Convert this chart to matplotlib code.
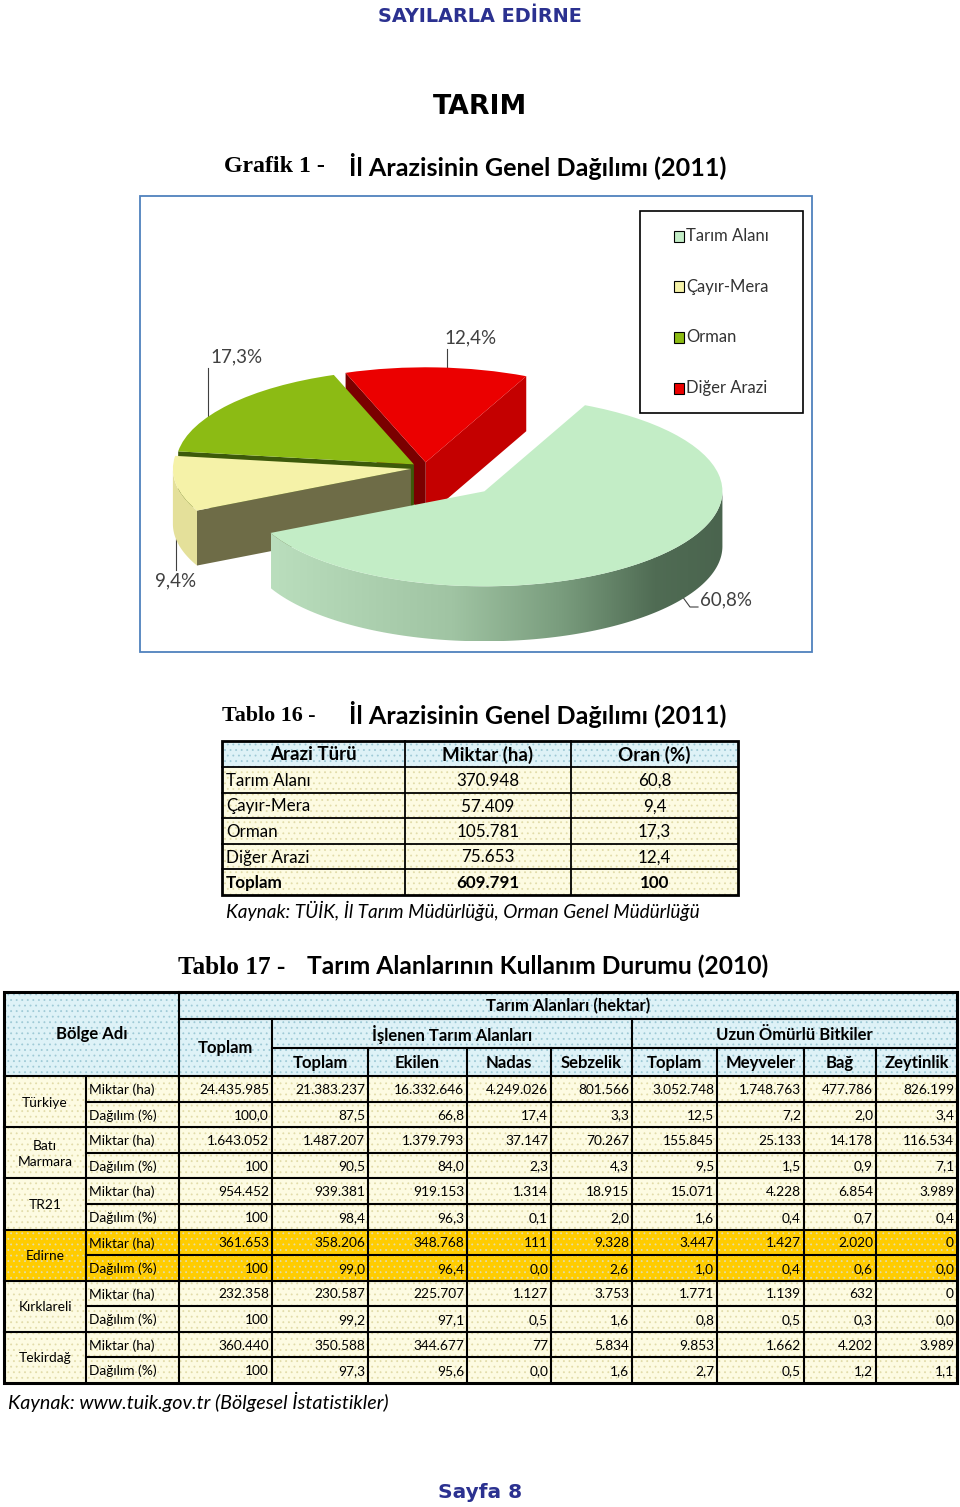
import numpy as np
import matplotlib
matplotlib.use('Agg')
import matplotlib.pyplot as plt
from matplotlib.patches import Rectangle, Polygon

W, H = 960, 1507

# Grafik 1 / Tablo 16
arazi_turu = ['Tarım Alanı', 'Çayır-Mera', 'Orman', 'Diğer Arazi']
miktar_ha = [370948, 57409, 105781, 75653]
oran = ['60,8', '9,4', '17,3', '12,4']
toplam_ha = 609791
toplam_oran = '100'
pie_colors = ['#c3edc6', '#f5f2a8', '#8cbb14', '#eb0000']

# Tablo 17
bolgeler = ['Türkiye', 'Batı\nMarmara', 'TR21', 'Edirne', 'Kırklareli', 'Tekirdağ']
alt_kolonlar = ['Toplam', 'Ekilen', 'Nadas', 'Sebzelik', 'Toplam', 'Meyveler', 'Bağ', 'Zeytinlik']
miktar = [
    [24435985, 21383237, 16332646, 4249026, 801566, 3052748, 1748763, 477786, 826199],
    [1643052, 1487207, 1379793, 37147, 70267, 155845, 25133, 14178, 116534],
    [954452, 939381, 919153, 1314, 18915, 15071, 4228, 6854, 3989],
    [361653, 358206, 348768, 111, 9328, 3447, 1427, 2020, 0],
    [232358, 230587, 225707, 1127, 3753, 1771, 1139, 632, 0],
    [360440, 350588, 344677, 77, 5834, 9853, 1662, 4202, 3989],
]
dagilim = [
    ['100,0', '87,5', '66,8', '17,4', '3,3', '12,5', '7,2', '2,0', '3,4'],
    ['100', '90,5', '84,0', '2,3', '4,3', '9,5', '1,5', '0,9', '7,1'],
    ['100', '98,4', '96,3', '0,1', '2,0', '1,6', '0,4', '0,7', '0,4'],
    ['100', '99,0', '96,4', '0,0', '2,6', '1,0', '0,4', '0,6', '0,0'],
    ['100', '99,2', '97,1', '0,5', '1,6', '0,8', '0,5', '0,3', '0,0'],
    ['100', '97,3', '95,6', '0,0', '1,6', '2,7', '0,5', '1,2', '1,1'],
]
vurgu = 'Edirne'

SANS = ['Lato', 'DejaVu Sans']
SERIF = ['Liberation Serif', 'DejaVu Serif']
HEAVY = ['DejaVu Sans']
NAVY = '#2b3190'
HEAD_BG, HEAD_DOT = '#def2f7', '#9fcad6'
BODY_BG, BODY_DOT = '#fdfbe2', '#e2dcaa'
GOLD = '#ffcc00'

plt.rcParams['hatch.linewidth'] = 0.6

fig = plt.figure(figsize=(W / 100, H / 100), dpi=100)
page = fig.add_axes([0, 0, 1, 1])
page.set_xlim(0, W)
page.set_ylim(H, 0)
page.axis('off')
renderer = fig.canvas.get_renderer()


def fit(s, width, **kw):
    t = page.text(0, 0, s, fontsize=20, **kw)
    w = t.get_window_extent(renderer).width
    t.remove()
    return 20 * width / w


def put(x, y, s, width=None, size=12, **kw):
    if width:
        size = fit(s, width, **{k: v for k, v in kw.items() if k in ('family', 'weight', 'style')})
    return page.text(x, y, s, fontsize=size, **kw)


def cell(x0, y0, x1, y1, fc, dots=None):
    page.add_patch(Rectangle((x0, y0), x1 - x0, y1 - y0, facecolor=fc, edgecolor='none', zorder=1))
    if dots:
        page.add_patch(Rectangle((x0, y0), x1 - x0, y1 - y0, fill=False, hatch='...',
                                 edgecolor=dots, lw=0, zorder=1.1))


def hline(y, x0, x1, lw=1.5):
    page.plot([x0, x1], [y, y], color='black', lw=lw, solid_capstyle='projecting', zorder=3)


def vline(x, y0, y1, lw=1.5):
    page.plot([x, x], [y0, y1], color='black', lw=lw, solid_capstyle='projecting', zorder=3)


def fmt(v):
    return f'{v:,}'.replace(',', '.')


# ---- page headings
put(480, 17, 'SAYILARLA EDİRNE', width=204, family=HEAVY, weight='bold', color=NAVY, ha='center', va='center')
put(480, 107, 'TARIM', width=94, family=HEAVY, weight='bold', color='black', ha='center', va='center')
put(224, 167, 'Grafik 1 -', width=101, family=SERIF, weight='bold', ha='left', va='center')
put(349, 166, 'İl Arazisinin Genel Dağılımı (2011)', width=376, family=SANS, weight='bold', ha='left', va='center')

# ---- Grafik 1: 3D pie
box = (140, 196, 812, 652)
page.add_patch(Rectangle((box[0], box[1]), box[2] - box[0], box[3] - box[1], fill=False,
                         edgecolor='#4f81bd', lw=1.3, zorder=2))
cx, cy, a, b, depth = 425, 468, 238, 95, 55
d = depth / b

pax = fig.add_axes([box[0] / W, 1 - box[3] / H, (box[2] - box[0]) / W, (box[3] - box[1]) / H])
wedges, _ = pax.pie(miktar_ha, colors=pie_colors, startangle=65, counterclock=False,
                    explode=[0.35, 0.06, 0.06, 0.06], wedgeprops=dict(linewidth=0))
for w in wedges:
    w.set_zorder(5)


def arc(c, t1, t2, n=120):
    t = np.radians(np.linspace(t1, t2, n))
    return np.column_stack([c[0] + np.cos(t), c[1] + np.sin(t)])


def radial_face(c, t):
    p = np.array([c[0] + np.cos(np.radians(t)), c[1] + np.sin(np.radians(t))])
    c = np.array(c)
    return np.array([c, p, p - [0, d], c - [0, d]])


band_colors = [None, '#e4e09a', '#4f7010', '#a00000']
face_end = [None, '#6e6c47', '#3d5a0a', '#7a0000']    # face at theta2
face_start = [None, None, None, '#c40000']             # face at theta1

mids = [np.radians((w.theta1 + w.theta2) / 2) for w in wedges]
order = np.argsort([-np.sin(m) for m in mids])
z = 1.0
for i in order:
    w = wedges[i]
    c = w.center
    t = np.linspace(w.theta1, w.theta2, 400)
    vis = t[np.sin(np.radians(t)) <= 0]
    if face_start[i] and np.sin(np.radians(w.theta1 - 90)) < 0:
        pax.add_patch(Polygon(radial_face(c, w.theta1), closed=True, facecolor=face_start[i],
                              edgecolor='none', zorder=z)); z += 0.05
    if face_end[i] and np.sin(np.radians(w.theta2 + 90)) < 0:
        pax.add_patch(Polygon(radial_face(c, w.theta2), closed=True, facecolor=face_end[i],
                              edgecolor='none', zorder=z)); z += 0.05
    if len(vis) > 1:
        top = arc(c, vis[0], vis[-1])
        pts = np.vstack([top, (top - [0, d])[::-1]])
        if band_colors[i] is None:
            poly = Polygon(pts, closed=True, facecolor='none', edgecolor='none', zorder=z)
            pax.add_patch(poly)
            stops = np.array([0, 0.4, 0.65, 0.85, 1.0])
            cols = np.array([[186, 222, 189], [160, 196, 163], [120, 155, 124],
                             [80, 108, 84], [74, 100, 78]]) / 255
            xs = np.linspace(0, 1, 256)
            grad = np.stack([np.interp(xs, stops, cols[:, k]) for k in range(3)], axis=1)
            im = pax.imshow(grad[None, :, :], extent=(pts[:, 0].min(), pts[:, 0].max(),
                                                       pts[:, 1].min(), pts[:, 1].max()),
                            aspect='auto', zorder=z, interpolation='bilinear')
            im.set_clip_path(poly)
        else:
            pax.add_patch(Polygon(pts, closed=True, facecolor=band_colors[i], edgecolor='none', zorder=z))
        z += 0.05

pax.set_aspect('auto')
pax.set_xlim((box[0] - cx) / a, (box[2] - cx) / a)
pax.set_ylim((cy - box[3]) / b, (cy - box[1]) / b)
pax.axis('off')


def to_page(u, v):
    return cx + a * u, cy - b * v


def top_arc_at(w, x):
    # point on the upper rim of wedge w whose page x equals x
    u = (x - cx) / a - w.center[0]
    phi = np.arccos(np.clip(u, -1, 1))
    return to_page(w.center[0] + np.cos(phi), w.center[1] + np.sin(phi))


# pie labels with leader lines
total = sum(miktar_ha)
lab_pos = [(726, 600), (176, 581), (237, 357), (471, 338)]
lead_x = [None, None, 208, 447]
for i, w in enumerate(wedges):
    m = mids[i]
    u, v = w.center[0] + np.cos(m), w.center[1] + np.sin(m)
    if np.sin(m) < 0 and i != 0:
        v -= d
    px, py = to_page(u, v)
    pct = f'{miktar_ha[i] / total * 100:.1f}%'.replace('.', ',')
    lx, ly = lab_pos[i]
    put(lx, ly, pct, size=13.5, family=SANS, color='#404040', ha='center', va='center')
    if i == 0:
        page.plot([px, lx - 36, lx - 28], [py, ly + 7, ly + 7], color='#404040', lw=0.8, zorder=2)
    elif np.sin(m) < 0:
        page.plot([px, px], [py, ly - 11], color='#404040', lw=0.8, zorder=2)
    else:
        ax_, ay_ = top_arc_at(w, lead_x[i])
        page.plot([lead_x[i], ax_], [ly + 11, ay_], color='#404040', lw=0.8, zorder=2)

# legend
page.add_patch(Rectangle((640, 211), 163, 202, facecolor='white', edgecolor='black', lw=1.2, zorder=2))
for k, (name, col) in enumerate(zip(arazi_turu, pie_colors)):
    yy = 236 + k * 50.7
    page.add_patch(Rectangle((674, yy - 5.5), 10, 11, facecolor=col, edgecolor='black', lw=0.8, zorder=3))
    put(686, yy, name, size=12, family=SANS, color='#333333', ha='left', va='center', zorder=3)

# ---- Tablo 16
put(222, 716, 'Tablo 16 -', width=93, family=SERIF, weight='bold', ha='left', va='center')
put(349, 715, 'İl Arazisinin Genel Dağılımı (2011)', width=376, family=SANS, weight='bold', ha='left', va='center')

xs16 = [222, 405, 571, 738]
ys16 = [741, 767, 793, 818, 844, 869, 895]
cell(xs16[0], ys16[0], xs16[-1], ys16[1], HEAD_BG, HEAD_DOT)
cell(xs16[0], ys16[1], xs16[-1], ys16[-1], BODY_BG, BODY_DOT)
fs16 = fit('370.948', 63, family=SANS)
fs16b = fit('Miktar (ha)', 91, family=SANS, weight='bold')
heads16 = ['Arazi Türü', 'Miktar (ha)', 'Oran (%)']
for j, hname in enumerate(heads16):
    put((xs16[j] + xs16[j + 1]) / 2, (ys16[0] + ys16[1]) / 2 + 1, hname, size=fs16b, family=SANS,
        weight='bold', ha='center', va='center', zorder=4)
rows16 = [(n, fmt(m), o, 'normal') for n, m, o in zip(arazi_turu, miktar_ha, oran)]
rows16.append(('Toplam', fmt(toplam_ha), toplam_oran, 'bold'))
for r, (n, m, o, wt) in enumerate(rows16):
    yc = (ys16[r + 1] + ys16[r + 2]) / 2 + 1
    put(xs16[0] + 4, yc, n, size=fs16, family=SANS, weight=wt, ha='left', va='center', zorder=4)
    put((xs16[1] + xs16[2]) / 2, yc, m, size=fs16, family=SANS, weight=wt, ha='center', va='center', zorder=4)
    put((xs16[2] + xs16[3]) / 2, yc, o, size=fs16, family=SANS, weight=wt, ha='center', va='center', zorder=4)
for y in ys16[1:-1]:
    hline(y, xs16[0], xs16[-1], lw=1.3)
for x in xs16[1:-1]:
    vline(x, ys16[0], ys16[-1], lw=1.3)
page.add_patch(Rectangle((xs16[0], ys16[0]), xs16[-1] - xs16[0], ys16[-1] - ys16[0], fill=False,
                         edgecolor='black', lw=2, zorder=3))
put(226, 911, 'Kaynak: TÜİK, İl Tarım Müdürlüğü, Orman Genel Müdürlüğü', width=474, family=SANS,
    style='italic', ha='left', va='center')

# ---- Tablo 17
put(178, 967, 'Tablo 17 -', width=107, family=SERIF, weight='bold', ha='left', va='center')
put(307, 966, 'Tarım Alanlarının Kullanım Durumu (2010)', width=461, family=SANS, weight='bold',
    ha='left', va='center')

xs = [4, 86, 179, 272, 368, 467, 551, 632, 717, 804, 876, 957]
yh = [992, 1019, 1048, 1076]
rh = (1383 - 1076) / 12
yr = [1076 + rh * k for k in range(13)]

cell(xs[0], yh[0], xs[-1], yh[-1], HEAD_BG, HEAD_DOT)
cell(xs[0], yr[0], xs[-1], yr[-1], BODY_BG, BODY_DOT)
fs17 = fit('24.435.985', 70, family=SANS)
fs17b = fit('Tarım Alanları (hektar)', 164, family=SANS, weight='bold')

hdr = dict(size=fs17b, family=SANS, weight='bold', ha='center', va='center', zorder=4)
put((xs[0] + xs[2]) / 2, (yh[0] + yh[3]) / 2, 'Bölge Adı', **hdr)
put((xs[2] + xs[-1]) / 2, (yh[0] + yh[1]) / 2 + 1, 'Tarım Alanları (hektar)', **hdr)
put((xs[2] + xs[3]) / 2, (yh[1] + yh[3]) / 2, 'Toplam', **hdr)
put((xs[3] + xs[7]) / 2, (yh[1] + yh[2]) / 2 + 1, 'İşlenen Tarım Alanları', **hdr)
put((xs[7] + xs[-1]) / 2, (yh[1] + yh[2]) / 2 + 1, 'Uzun Ömürlü Bitkiler', **hdr)
for j, nm in enumerate(alt_kolonlar):
    put((xs[j + 3] + xs[j + 4]) / 2, (yh[2] + yh[3]) / 2 + 1, nm, **hdr)

for r, bolge in enumerate(bolgeler):
    y0, y1, y2 = yr[2 * r], yr[2 * r + 1], yr[2 * r + 2]
    if bolge == vurgu:
        cell(xs[0], y0, xs[-1], y2, GOLD)
    put((xs[0] + xs[1]) / 2, (y0 + y2) / 2 + 1, bolge, size=fs17, family=SANS, ha='center',
        va='center', linespacing=1.45, zorder=4)
    for yy0, yy1, lab, vals in [(y0, y1, 'Miktar (ha)', [fmt(v) for v in miktar[r]]),
                                (y1, y2, 'Dağılım (%)', dagilim[r])]:
        yc = (yy0 + yy1) / 2 + 1
        put(xs[1] + 3, yc, lab, size=fs17, family=SANS, ha='left', va='center', zorder=4)
        for j, s in enumerate(vals):
            put(xs[j + 3] - 3, yc, s, size=fs17, family=SANS, ha='right', va='center', zorder=4)

# grid lines
hline(yh[1], xs[2], xs[-1])
hline(yh[2], xs[3], xs[-1])
hline(yh[3], xs[0], xs[-1])
for k in range(1, 12):
    hline(yr[k], xs[0] if k % 2 == 0 else xs[1], xs[-1])
vline(xs[1], yr[0], yr[-1])
vline(xs[2], yh[0], yr[-1])
vline(xs[3], yh[1], yr[-1])
vline(xs[7], yh[1], yr[-1])
for x in [xs[4], xs[5], xs[6], xs[8], xs[9], xs[10]]:
    vline(x, yh[2], yr[-1])
page.add_patch(Rectangle((xs[0], yh[0]), xs[-1] - xs[0], yr[-1] - yh[0], fill=False,
                         edgecolor='black', lw=2.2, zorder=3))

put(8, 1402, 'Kaynak: www.tuik.gov.tr (Bölgesel İstatistikler)', width=380, family=SANS,
    style='italic', ha='left', va='center')

put(480, 1493, 'Sayfa 8', width=84, family=HEAVY, weight='bold', color=NAVY, ha='center', va='center')

fig.savefig('out.png', dpi=100)
